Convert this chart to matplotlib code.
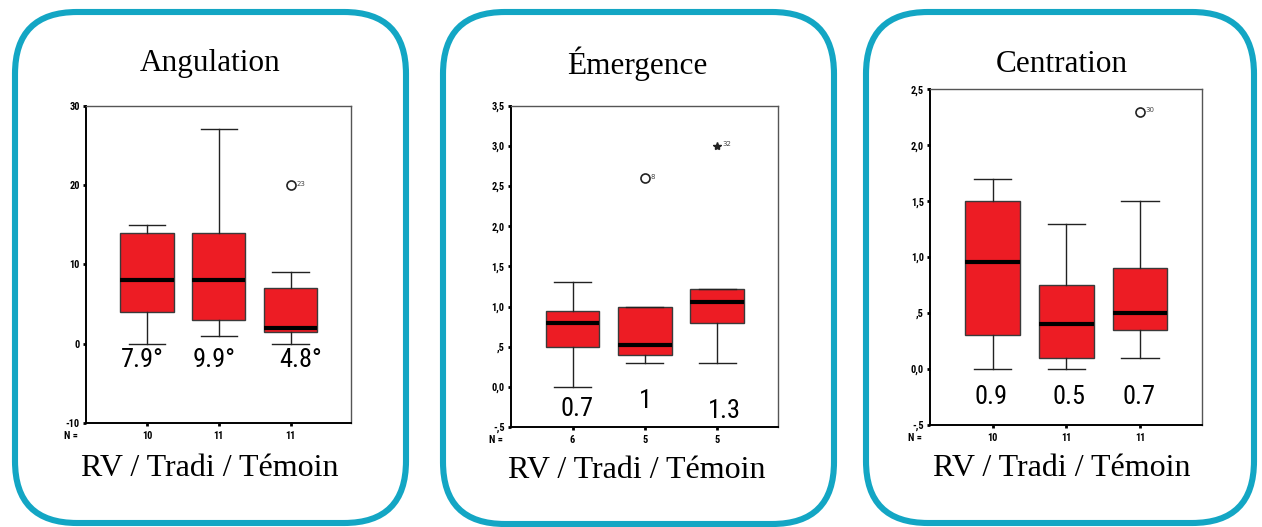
import matplotlib
matplotlib.use("Agg")
import matplotlib.pyplot as plt
from matplotlib.patches import FancyBboxPatch

# ---------------- data ----------------
titles = ["Angulation", "Émergence", "Centration"]
group_label = "RV / Tradi / Témoin"

# box statistics per panel: whisker low, Q1, median, Q3, whisker high
ang_low = [0, 1, 0]
ang_q1 = [4, 3, 1.5]
ang_med = [8, 8, 2]
ang_q3 = [14, 14, 7]
ang_high = [15, 27, 9]

eme_low = [0.0, 0.3, 0.3]
eme_q1 = [0.5, 0.4, 0.8]
eme_med = [0.8, 0.52, 1.05]
eme_q3 = [0.95, 1.0, 1.22]
eme_high = [1.3, 1.0, 1.22]

cen_low = [0.0, 0.0, 0.1]
cen_q1 = [0.3, 0.1, 0.35]
cen_med = [0.96, 0.4, 0.5]
cen_q3 = [1.5, 0.75, 0.9]
cen_high = [1.7, 1.3, 1.5]

# outliers: (group index 1..3, value, case label, kind)
ang_out = [(3, 20, "23", "o")]
eme_out = [(2, 2.6, "8", "o"), (3, 3.0, "32", "*")]
cen_out = [(3, 2.3, "30", "o")]

n_labels = [["10", "11", "11"], ["6", "5", "5"], ["10", "11", "11"]]

ang_ticks = [-10, 0, 10, 20, 30]
ang_ticklabels = ["-10", "0", "10", "20", "30"]
eme_ticks = [-0.5, 0, 0.5, 1, 1.5, 2, 2.5, 3, 3.5]
eme_ticklabels = ["-,5", "0,0", ",5", "1,0", "1,5", "2,0", "2,5", "3,0", "3,5"]
cen_ticks = [-0.5, 0, 0.5, 1, 1.5, 2, 2.5]
cen_ticklabels = ["-,5", "0,0", ",5", "1,0", "1,5", "2,0", "2,5"]

ang_means = ["7.9°", "9.9°", "4.8°"]
eme_means = ["0.7", "1", "1.3"]
cen_means = ["0.9", "0.5", "0.7"]

# ---------------- figure ----------------
W, H = 1262, 527
fig = plt.figure(figsize=(W / 100, H / 100), dpi=100)
fig.patch.set_facecolor("white")

bg = fig.add_axes([0, 0, 1, 1])
bg.set_xlim(0, W)
bg.set_ylim(H, 0)
bg.axis("off")

TEAL = "#13a6c4"
frames = [(15, 12, 391, 511), (443, 12, 391, 512), (866, 12, 388, 511)]
for (x, y, w, h) in frames:
    bg.add_patch(FancyBboxPatch((x, y), w, h,
                                boxstyle="round,pad=0,rounding_size=62",
                                fill=False, ec=TEAL, lw=4.4))

title_pos = [(210, 64), (637, 64), (1062, 64)]
label_pos = [(210, 468), (637, 471), (1062, 468)]
serif = ["Liberation Serif", "DejaVu Serif"]
for t, (x, y) in zip(titles, title_pos):
    bg.text(x, y, t, ha="center", va="center", fontsize=22.5, family=serif)
for (x, y) in label_pos:
    bg.text(x, y, group_label, ha="center", va="center", fontsize=23, family=serif)

# axes positions in pixels: left, right, top, bottom
ax_px = [(86, 351, 105.7, 423), (511, 778, 105.7, 427), (930, 1202, 89.3, 425)]

panels = [
    (ang_low, ang_q1, ang_med, ang_q3, ang_high, ang_out, (-10, 30),
     ang_ticks, ang_ticklabels, ang_means, [0.93, 1.93, 3.14], [-2.1, -2.1, -2.1]),
    (eme_low, eme_q1, eme_med, eme_q3, eme_high, eme_out, (-0.5, 3.5),
     eme_ticks, eme_ticklabels, eme_means, [1.06, 2.01, 3.10], [-0.28, -0.18, -0.30]),
    (cen_low, cen_q1, cen_med, cen_q3, cen_high, cen_out, (-0.5, 2.5),
     cen_ticks, cen_ticklabels, cen_means, [0.98, 2.04, 2.98], [-0.25, -0.25, -0.25]),
]

narrow = ["Liberation Sans Narrow", "DejaVu Sans Condensed", "Roboto Condensed",
          "Liberation Sans", "DejaVu Sans"]
tickfont = dict(family=narrow, fontsize=7.5, fontweight="bold")

for i, (lo, q1, med, q3, hi, outs, ylim, ticks, tlabels, means, mx, my) in enumerate(panels):
    l, r, t, b = ax_px[i]
    ax = fig.add_axes([l / W, 1 - b / H, (r - l) / W, (b - t) / H])
    stats = [dict(whislo=lo[k], q1=q1[k], med=med[k], q3=q3[k], whishi=hi[k], fliers=[])
             for k in range(3)]
    ax.bxp(stats, positions=[1, 2, 3], widths=0.74, capwidths=0.51,
           patch_artist=True, showfliers=False,
           boxprops=dict(facecolor="#ed1c24", edgecolor="#3a3a3a", linewidth=1.0),
           medianprops=dict(color="black", linewidth=3.0, solid_capstyle="butt"),
           whiskerprops=dict(color="#222222", linewidth=1.0),
           capprops=dict(color="#222222", linewidth=1.0))
    for (g, v, lab, kind) in outs:
        if kind == "o":
            ax.plot([g], [v], marker="o", ms=6.5, mfc="white", mec="#222222", mew=1.2)
        else:
            ax.plot([g], [v], marker="*", ms=6, color="#222222")
        ax.annotate(lab, (g, v), xytext=(4, 1), textcoords="offset points",
                    fontsize=5, va="center", ha="left", color="#444444")
    ax.set_xlim(0.15, 3.84)
    ax.set_ylim(*ylim)
    ax.set_yticks(ticks)
    ax.set_yticklabels(tlabels, **tickfont)
    ax.set_xticks([1, 2, 3])
    ax.set_xticklabels(n_labels[i], **tickfont)
    ax.tick_params(direction="out", length=2.5, width=2, pad=2, colors="black")
    ax.tick_params(axis="x", pad=3)
    for s in ["left", "bottom"]:
        ax.spines[s].set_linewidth(1.4)
        ax.spines[s].set_color("black")
    for s in ["top", "right"]:
        ax.spines[s].set_linewidth(1.0)
        ax.spines[s].set_color("#555555")
    ax.text(-0.03, -0.04, "N =", transform=ax.transAxes, ha="right", va="center", **tickfont)
    for txt, x, y in zip(means, mx, my):
        ax.text(x, y, txt, ha="center", va="center", fontsize=19,
                family=narrow[:3] + ["Open Sans", "DejaVu Sans"])

fig.savefig("out.png", dpi=100, facecolor="white")
